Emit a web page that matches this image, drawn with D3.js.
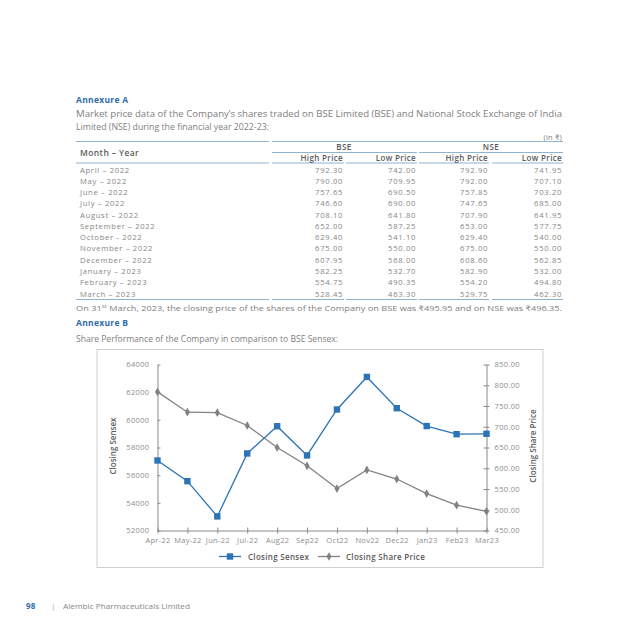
<!DOCTYPE html>
<html><head><meta charset="utf-8">
<script src="https://cdn.jsdelivr.net/npm/d3@7"></script>
<style>
html,body{margin:0;padding:0;background:#fff;}
svg{display:block;font-family:"Open Sans","Lato",sans-serif;}
</style></head>
<body>
<svg id="page" width="640" height="640"></svg>
<script>
// ---------- data ----------
const tableMonths = ["April – 2022","May – 2022","June – 2022","July – 2022","August – 2022","September – 2022","October - 2022","November – 2022","December – 2022","January – 2023","February – 2023","March – 2023"];
const bseHigh = ["792.30","790.00","757.65","746.60","708.10","652.00","629.40","675.00","607.95","582.25","554.75","528.45"];
const bseLow  = ["742.00","709.95","690.50","690.00","641.80","587.25","541.10","550.00","568.00","532.70","490.35","463.30"];
const nseHigh = ["792.90","792.00","757.85","747.65","707.90","653.00","629.40","675.00","608.60","582.90","554.20","529.75"];
const nseLow  = ["741.95","707.10","703.20","685.00","641.95","577.75","540.00","550.00","562.85","532.00","494.80","462.30"];

const chartMonths = ["Apr-22","May-22","Jun-22","Jul-22","Aug22","Sep22","Oct22","Nov22","Dec22","Jan23","Feb23","Mar23"];
const closingSensex = [57061,55566,53019,57570,59537,57427,60747,63100,60841,59550,58962,58992];
const closingSharePrice = [784,735,734,703,650,606,551,596,574,539,511,496];
const leftTicks = [52000,54000,56000,58000,60000,62000,64000];
const rightTicks = [450,500,550,600,650,700,750,800,850];

// ---------- styles ----------
const blue = "#2c74b5", grey = "#828282", txt = "#808080", head = "#2f6da8", rule = "#8fb3cf", dark = "#5a5a5a";
const svg = d3.select("#page");

function text(x,y,s,opts={}){
  const t = svg.append("text").attr("x",x).attr("y",y).text(s)
    .attr("font-size",opts.size||8.5).attr("fill",opts.fill||txt)
    .attr("font-weight",opts.weight||400)
    .attr("letter-spacing",opts.ls!==undefined?opts.ls:0.35)
    .attr("text-anchor",opts.anchor||"start");
  if(opts.len) t.attr("textLength",opts.len).attr("lengthAdjust","spacingAndGlyphs");
  return t;
}

// ---------- Annexure A ----------
text(76,103,"Annexure A",{size:8.5,weight:700,fill:head,ls:0.3});
text(76,117,"Market price data of the Company’s shares traded on BSE Limited (BSE) and National Stock Exchange of India",{len:486,ls:0});
text(76,130,"Limited (NSE) during the financial year 2022-23:",{len:193,ls:0});
text(562,140,"(in ₹)",{anchor:"end",size:7.5,ls:0.2});

// table rules
const colSeg = [[76,269],[272,344],[346,417],[419,489],[492,563]];
svg.append("line").attr("x1",76).attr("x2",269).attr("y1",141.5).attr("y2",141.5).attr("stroke",rule);
svg.append("line").attr("x1",272).attr("x2",563).attr("y1",141.5).attr("y2",141.5).attr("stroke",rule);
svg.append("line").attr("x1",272).attr("x2",417).attr("y1",152.5).attr("y2",152.5).attr("stroke",rule);
svg.append("line").attr("x1",419).attr("x2",563).attr("y1",152.5).attr("y2",152.5).attr("stroke",rule);
colSeg.forEach(s=>{
  svg.append("line").attr("x1",s[0]).attr("x2",s[1]).attr("y1",163).attr("y2",163).attr("stroke",rule);
  svg.append("line").attr("x1",s[0]).attr("x2",s[1]).attr("y1",299.5).attr("y2",299.5).attr("stroke",rule);
});
text(80,155.5,"Month – Year",{weight:600,fill:dark,size:8.5,ls:0.4});
text(344,150,"BSE",{weight:600,fill:dark,size:8,anchor:"middle",ls:0.5});
text(491,150,"NSE",{weight:600,fill:dark,size:8,anchor:"middle",ls:0.5});
["High Price","Low Price","High Price","Low Price"].forEach((h,i)=>{
  text(colSeg[i+1][1]-1,161,h,{weight:600,fill:dark,size:8,anchor:"end",ls:0.35});
});
const rowY = d3.scalePoint().domain(d3.range(tableMonths.length)).range([172.5,296.5]);
tableMonths.forEach((m,i)=>{
  const y = rowY(i);
  text(80,y,m,{size:7.7,ls:0.65,fill:"#868686"});
  [bseHigh,bseLow,nseHigh,nseLow].forEach((arr,j)=>{
    text(colSeg[j+1][1]-1,y,arr[i],{size:7.7,anchor:"end",ls:0.65,fill:"#868686"});
  });
});
const note = svg.append("text").attr("x",76).attr("y",311).attr("font-size",7.3).attr("fill",txt)
  .attr("textLength",486).attr("lengthAdjust","spacingAndGlyphs");
note.append("tspan").text("On 31");
note.append("tspan").text("st").attr("font-size",5).attr("dy",-3);
note.append("tspan").text(" March, 2023, the closing price of the shares of the Company on BSE was ₹495.95 and on NSE was ₹496.35.").attr("dy",3);

// ---------- Annexure B ----------
text(76,326,"Annexure B",{size:8.5,weight:700,fill:head,ls:0.3});
text(76,342,"Share Performance of the Company in comparison to BSE Sensex:",{len:262,ls:0});

// chart frame
svg.append("rect").attr("x",97).attr("y",349.5).attr("width",446).attr("height",218).attr("fill","#fff").attr("stroke","#cfcfcf").attr("stroke-width",1);

const x = d3.scalePoint().domain(chartMonths).range([157.5,486.5]);
const yL = d3.scaleLinear().domain([52000,64000]).range([530.5,364.5]);
const yR = d3.scaleLinear().domain([450,850]).range([530.5,364.5]);

const axisCol = "#8a8a8a";
function styleAxis(g){
  g.selectAll("path.domain").attr("stroke",axisCol);
  g.selectAll(".tick line").attr("stroke",axisCol);
  g.selectAll(".tick text").attr("fill","#8c8c8c").attr("font-size",7.5).attr("letter-spacing",0.35)
    .attr("font-family","'Open Sans',sans-serif");
}
const gL = svg.append("g").attr("transform","translate(157.5,0)")
  .call(d3.axisLeft(yL).tickValues(leftTicks).tickSizeInner(3).tickSizeOuter(0).tickPadding(5).tickFormat(d3.format("d")));
gL.selectAll(".tick line").attr("x2",3);
styleAxis(gL);
const gR = svg.append("g").attr("transform","translate(486.5,0)")
  .call(d3.axisRight(yR).tickValues(rightTicks).tickSizeInner(3).tickSizeOuter(0).tickPadding(5).tickFormat(d3.format(".2f")));
gR.selectAll(".tick line").attr("x2",3).attr("x1",-3);
styleAxis(gR);
const gX = svg.append("g").attr("transform","translate(0,530.5)")
  .call(d3.axisBottom(x).tickSizeInner(3).tickSizeOuter(0).tickPadding(4));
gX.selectAll(".tick line").attr("y1",-3);
styleAxis(gX);
gX.selectAll(".tick text").attr("letter-spacing",0.3);

// axis titles
svg.append("text").attr("transform","translate(116,446) rotate(-90)").attr("text-anchor","middle")
  .attr("font-size",8).attr("font-weight",600).attr("fill",dark).attr("font-family","'Open Sans',sans-serif").text("Closing Sensex");
svg.append("text").attr("transform","translate(536,446) rotate(-90)").attr("text-anchor","middle")
  .attr("font-size",8).attr("font-weight",600).attr("fill",dark).attr("font-family","'Open Sans',sans-serif").text("Closing Share Price");

// lines
const lineS = d3.line().x((d,i)=>x(chartMonths[i])).y(d=>yL(d));
const lineP = d3.line().x((d,i)=>x(chartMonths[i])).y(d=>yR(d));
svg.append("path").datum(closingSharePrice).attr("d",lineP).attr("fill","none").attr("stroke",grey).attr("stroke-width",1.3);
svg.append("path").datum(closingSensex).attr("d",lineS).attr("fill","none").attr("stroke",blue).attr("stroke-width",1.3);
svg.selectAll(".pp").data(closingSharePrice).join("path").attr("class","pp")
  .attr("d",d3.symbol().type(d3.symbolDiamond).size(22)())
  .attr("transform",(d,i)=>`translate(${x(chartMonths[i])},${yR(d)})`).attr("fill",grey);
svg.selectAll(".ss").data(closingSensex).join("rect").attr("class","ss")
  .attr("x",(d,i)=>x(chartMonths[i])-3.2).attr("y",d=>yL(d)-3.2).attr("width",6.4).attr("height",6.4).attr("fill",blue);

// legend
const ly = 556.5;
svg.append("line").attr("x1",219).attr("x2",241).attr("y1",ly).attr("y2",ly).attr("stroke",blue).attr("stroke-width",1.3);
svg.append("rect").attr("x",226.8).attr("y",ly-3.2).attr("width",6.4).attr("height",6.4).attr("fill",blue);
svg.append("text").attr("x",248).attr("y",ly+3).attr("font-size",8).attr("font-weight",600).attr("letter-spacing",0.3).attr("fill",dark).text("Closing Sensex");
svg.append("line").attr("x1",318).attr("x2",340).attr("y1",ly).attr("y2",ly).attr("stroke",grey).attr("stroke-width",1.3);
svg.append("path").attr("d",d3.symbol().type(d3.symbolDiamond).size(22)()).attr("transform",`translate(329,${ly})`).attr("fill",grey);
svg.append("text").attr("x",346).attr("y",ly+3).attr("font-size",8).attr("font-weight",600).attr("letter-spacing",0.3).attr("fill",dark).text("Closing Share Price");

// footer
text(26,609,"98",{size:8,weight:700,fill:head,ls:0.3});
text(51,609,"|",{size:8,fill:"#aaa",ls:0});
text(63,609,"Alembic Pharmaceuticals Limited",{size:7.5,fill:"#888",len:127,ls:0});
</script>
</body></html>
